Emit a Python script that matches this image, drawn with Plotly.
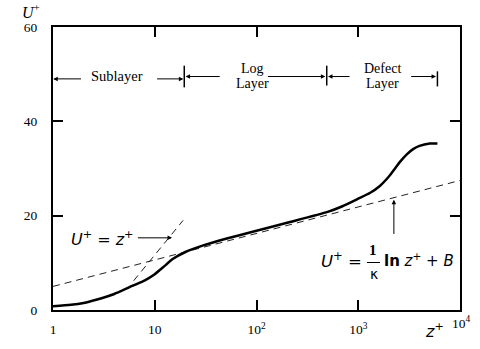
import numpy as np
import plotly.graph_objects as go

# ---- data ----
z_profile = [1, 1.5, 2, 3, 4, 5, 6, 8, 10, 12, 15, 20, 30, 50, 100, 200, 500, 700,
             1000, 1300, 1630, 2000, 2570, 3000, 3460, 4000, 5040, 6000]
u_profile = [0.8, 1.1, 1.5, 2.5, 3.4, 4.3, 5.1, 6.3, 7.6, 9.0, 10.8, 12.3, 13.7, 15.1,
             16.8, 18.5, 20.8, 22.0, 23.6, 24.8, 26.3, 28.3, 31.4, 33.0, 34.1, 34.8, 35.3, 35.3]
z_visc = [6.2, 19]            # extent of U+ = z+ dashed line
z_log = [1, 10000]            # extent of log-law dashed line
kappa = 0.41
B = 5.0
x_tickvals = [1, 10, 100, 1000]
x_ticktext = ["1", "10", "10<sup>2</sup>", "10<sup>3</sup>"]
y_tickvals = [0, 20, 40, 60]
region_bounds = [1, 19.5, 490, 6000]   # z+ limits of sublayer / log / defect regions

SERIF = "Liberation Serif"
W, H = 480, 349
pl, pr, pt, pb = 53, 460, 27, 313

fig = go.Figure()
zl = np.logspace(np.log10(z_log[0]), np.log10(z_log[1]), 50)
fig.add_trace(go.Scatter(x=zl, y=np.log(zl) / kappa + B, mode="lines",
                         line=dict(color="#222", width=1, dash="7px,5px")))
fig.add_trace(go.Scatter(x=z_visc, y=z_visc, mode="lines",
                         line=dict(color="#222", width=1, dash="7px,5px")))
fig.add_trace(go.Scatter(x=z_profile, y=u_profile, mode="lines",
                         line=dict(color="black", width=2.5, shape="spline", smoothing=0.6)))

L = np.log10
ann = []
shapes = []

def px2paper(px, py):
    return (px - pl) / (pr - pl), (pb - py) / (pb - pt)

def label(px, py, text, size=15, family="DejaVu Sans", xanchor="center"):
    x, y = px2paper(px, py)
    ann.append(dict(x=x, y=y, xref="paper", yref="paper", text=text, showarrow=False,
                    xanchor=xanchor, yanchor="middle",
                    font=dict(family=family, size=size, color="black")))

def arrow(tip, tail, y):
    ann.append(dict(x=L(tip), y=y, ax=L(tail), ay=y, xref="x", yref="y", axref="x", ayref="y",
                    text="", showarrow=True, arrowhead=2, arrowsize=0.9, arrowwidth=1,
                    arrowcolor="black"))

# vertical bars between regions
for zb, (y0, y1) in zip(region_bounds[1:], [(47.2, 51.8), (47.6, 51.8), (47.4, 50.6)]):
    shapes.append(dict(type="line", xref="x", yref="y", x0=zb, x1=zb, y0=y0, y1=y1,
                       line=dict(color="black", width=1.5)))

# Sublayer
arrow(region_bounds[0] * 1.005, 1.95, 49.0)
arrow(region_bounds[1] * 0.98, 10.2, 49.0)
label(116.5, 77, "Sublayer", size=14.5, family=SERIF)
# Log Layer
arrow(region_bounds[1] * 1.03, 45, 49.5)
arrow(region_bounds[2] * 0.97, 125, 49.5)
label(252, 69, "Log", size=14, family=SERIF)
label(252, 84, "Layer", size=14, family=SERIF)
# Defect Layer
arrow(region_bounds[2] * 1.03, 850, 49.5)
arrow(region_bounds[3] * 0.97, 3200, 49.5)
label(382, 69, "Defect", size=14, family=SERIF)
label(382, 84, "Layer", size=14, family=SERIF)

# U+ = z+ label and arrow
ann.append(dict(x=L(14.8), y=15.3, ax=L(6.6), ay=15.3, xref="x", yref="y", axref="x", ayref="y",
                text="", showarrow=True, arrowhead=2, arrowsize=0.9, arrowwidth=1, arrowcolor="black"))
label(135, 241, "<i>U</i><sup>+</sup> = <i>z</i><sup>+</sup>", size=16, xanchor="right")

# log-law label and arrow
ann.append(dict(x=L(2240), y=23.4, ax=L(2240), ay=15.8, xref="x", yref="y", axref="x", ayref="y",
                text="", showarrow=True, arrowhead=2, arrowsize=0.9, arrowwidth=1, arrowcolor="black"))
label(364, 262, "<i>U</i><sup>+</sup> =", size=16.5, xanchor="right")
label(373, 252, "<b>1</b>", size=15, family=SERIF)
label(374, 277, "κ", size=14)
label(382, 262, "<b>ln</b> <i>z</i><sup>+</sup> + <i>B</i>", size=15, xanchor="left")
shapes.append(dict(type="line", xref="paper", yref="paper",
                   x0=px2paper(367, 0)[0], x1=px2paper(380, 0)[0],
                   y0=px2paper(0, 265)[1], y1=px2paper(0, 265)[1],
                   line=dict(color="black", width=1)))
# axis titles
label(31, 11, "<i>U</i><sup>+</sup>", size=16, family=SERIF)
label(434, 334, "<i>z</i><sup>+</sup>", size=16, family="DejaVu Sans")
label(462, 326, "10<sup>4</sup>", size=13.5, family=SERIF)

fig.update_layout(
    width=W, height=H,
    margin=dict(l=pl, r=W - pr, t=pt, b=H - pb),
    paper_bgcolor="white", plot_bgcolor="white",
    showlegend=False,
    xaxis=dict(type="log", range=[0, 4], showgrid=False, zeroline=False,
               showline=True, linecolor="black", linewidth=2, mirror="allticks",
               ticks="inside", ticklen=10, tickwidth=2, tickcolor="black",
               tickvals=x_tickvals, ticktext=x_ticktext, ticklabelstandoff=6,
               tickfont=dict(family=SERIF, size=13.5, color="black")),
    yaxis=dict(range=[0, 60], showgrid=False, zeroline=False,
               showline=True, linecolor="black", linewidth=2, mirror="allticks",
               ticks="inside", ticklen=10, tickwidth=2, tickcolor="black",
               tickvals=y_tickvals, ticklabelstandoff=11,
               tickfont=dict(family=SERIF, size=13.5, color="black")),
    annotations=ann, shapes=shapes,
)
fig.write_html("out.html")
